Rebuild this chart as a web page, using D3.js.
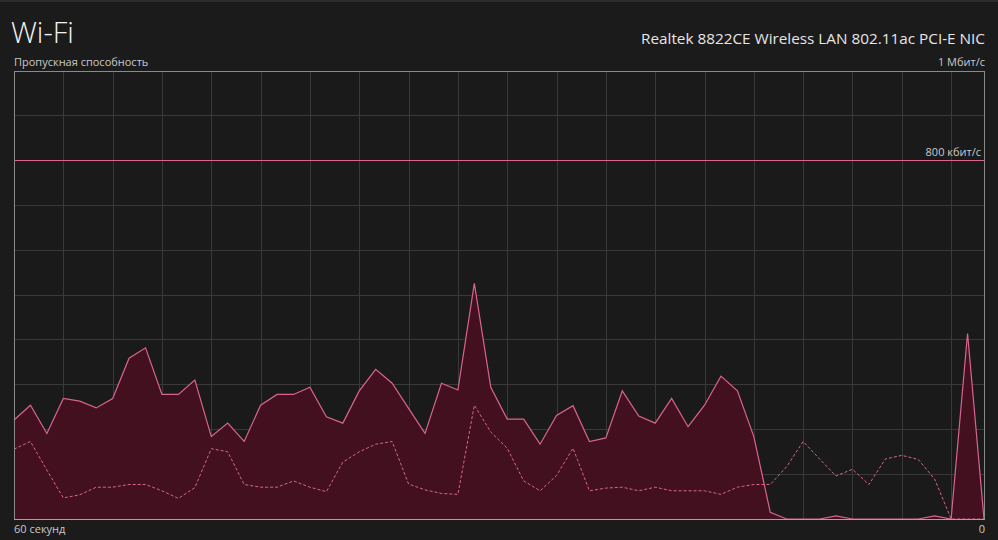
<!DOCTYPE html>
<html>
<head>
<meta charset="utf-8">
<script src="https://cdn.jsdelivr.net/npm/d3@7"></script>
<style>
  html, body { margin: 0; padding: 0; background: #1b1b1b; }
  svg { display: block; }
  text { font-family: "Open Sans", "Noto Sans", "DejaVu Sans", sans-serif; }
</style>
</head>
<body>
<svg id="chart" width="998" height="540"></svg>
<script>
// ---- data (kbit/s, one sample per second, oldest first) ----
const seconds = d3.range(60); // 60 samples: index 0 = 60 s ago, 59 = now
const solidSeries = [221,254,191,269,263,248,269,359,382,278,278,310,184,214,173,254,278,278,294,228,
                     214,286,334,303,247,191,303,288,526,294,223,223,167,231,253,173,181,286,230,214,
                     269,206,254,319,286,184,15,0,0,0,7,0,0,0,0,0,7,0,414,0];
const dashedSeries = [156,173,109,47,54,71,71,77,77,63,46,70,157,150,77,71,71,85,71,61,
                      127,150,167,173,78,65,57,55,254,194,158,85,63,97,158,63,69,71,63,71,
                      63,63,63,55,71,77,77,117,173,134,96,111,77,134,142,133,89,0,0,0];
const yMax = 1000;           // 1 Мбит/с
const refLine = 800;         // 800 кбит/с
const yGridStep = 100;
const xGridStep = 3;

const title = "Wi-Fi";
const adapter = "Realtek 8822CE Wireless LAN 802.11ac PCI-E NIC";
const yLabel = "Пропускная способность";
const yMaxLabel = "1 Мбит/с";
const refLabel = "800 кбит/с";
const xStartLabel = "60 секунд";
const xEndLabel = "0";

// ---- layout ----
const svg = d3.select("#chart");
const L = 14, R = 984, T = 71, B = 519;
const x = d3.scaleLinear().domain([0, 59]).range([L, R]);
const y = d3.scaleLinear().domain([0, yMax]).range([B, T]);

const pink = "#d9648f";
const fill = "#43101f";
const grid = "#393939";
const labelColor = "#c9c9c9";

svg.append("rect").attr("x", 0).attr("y", 0).attr("width", 998).attr("height", 540).attr("fill", "#1b1b1b");
svg.append("rect").attr("x", 0).attr("y", 0).attr("width", 998).attr("height", 2).attr("fill", "#2c2c2c");

// plot background
svg.append("rect").attr("x", L).attr("y", T).attr("width", R - L).attr("height", B - T).attr("fill", "#1a1a1a");

// grid
const gy = d3.range(yGridStep, yMax, yGridStep).filter(d => d !== refLine);
svg.append("g").selectAll("line").data(gy).join("line")
  .attr("x1", L).attr("x2", R).attr("y1", d => Math.floor(y(d)) + 0.5).attr("y2", d => Math.floor(y(d)) + 0.5)
  .attr("stroke", grid).attr("stroke-width", 1);
const gx = d3.range(xGridStep, 59, xGridStep);
svg.append("g").selectAll("line").data(gx).join("line")
  .attr("x1", d => Math.round(x(d)) + 0.5).attr("x2", d => Math.round(x(d)) + 0.5).attr("y1", T).attr("y2", B)
  .attr("stroke", grid).attr("stroke-width", 1);

// area + lines
const area = d3.area().x((d, i) => x(i)).y0(y(0)).y1(d => y(d));
const line = d3.line().x((d, i) => x(i)).y(d => y(d));

svg.append("path").datum(solidSeries).attr("d", area).attr("fill", fill);
svg.append("path").datum(dashedSeries).attr("d", line)
  .attr("fill", "none").attr("stroke", pink).attr("stroke-width", 1).attr("stroke-dasharray", "3,2");
svg.append("path").datum(solidSeries).attr("d", line)
  .attr("fill", "none").attr("stroke", pink).attr("stroke-width", 1.2);

// reference line
svg.append("line").attr("x1", L).attr("x2", R).attr("y1", Math.floor(y(refLine)) + 0.5).attr("y2", Math.floor(y(refLine)) + 0.5)
  .attr("stroke", pink).attr("stroke-width", 1.1);
svg.append("text").attr("x", R - 3).attr("y", y(refLine) - 5).attr("text-anchor", "end")
  .attr("font-size", 11).attr("fill", labelColor).text(refLabel);

// border
svg.append("rect").attr("x", L + 0.5).attr("y", T + 0.5).attr("width", R - L).attr("height", B - T)
  .attr("fill", "none").attr("stroke", "#8a8a8a").attr("stroke-width", 1);
svg.append("line").attr("x1", L).attr("x2", R + 1).attr("y1", B + 0.5).attr("y2", B + 0.5)
  .attr("stroke", "#b59aa4").attr("stroke-width", 1);

// texts
svg.append("text").attr("x", 11).attr("y", 43).attr("font-size", 29).attr("font-weight", 300)
  .attr("fill", "#f2f2f2").text(title);
svg.append("text").attr("x", 985).attr("y", 44).attr("text-anchor", "end").attr("font-size", 15.3)
  .attr("fill", "#e6e6e6").text(adapter);
svg.append("text").attr("x", 14).attr("y", 66).attr("font-size", 11).attr("fill", labelColor).text(yLabel);
svg.append("text").attr("x", 985).attr("y", 66).attr("text-anchor", "end").attr("font-size", 11)
  .attr("fill", labelColor).text(yMaxLabel);
svg.append("text").attr("x", 14).attr("y", 533).attr("font-size", 11).attr("fill", labelColor).text(xStartLabel);
svg.append("text").attr("x", 985).attr("y", 533).attr("text-anchor", "end").attr("font-size", 11)
  .attr("fill", labelColor).text(xEndLabel);
</script>
</body>
</html>
